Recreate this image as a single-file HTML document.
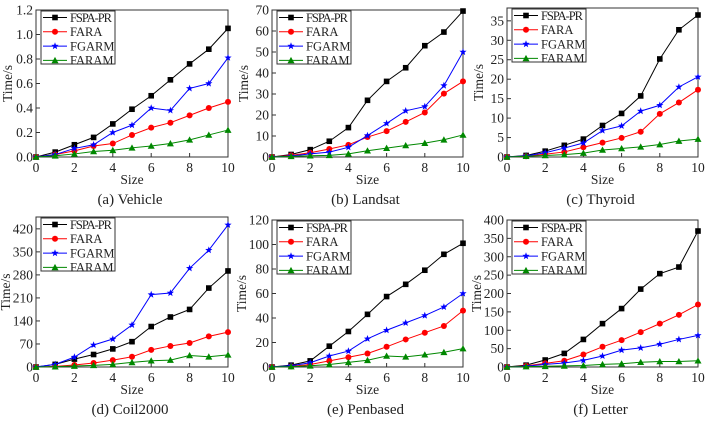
<!DOCTYPE html>
<html><head><meta charset="utf-8"><style>
body{margin:0;background:#fff}
text{font-family:"Liberation Serif","Times New Roman",serif;fill:#222}
</style></head><body>
<svg id="c" width="708" height="424" viewBox="0 0 708 424" xmlns="http://www.w3.org/2000/svg" font-family="Liberation Serif, serif"></svg>
<script>
const sizes=[0,1,2,3,4,5,6,7,8,9,10];
const seriesNames=["FSPA-PR","FARA","FGARM","FARAM"];
const vehicleFSPA=[0,0.04,0.1,0.16,0.27,0.39,0.5,0.63,0.76,0.88,1.05];
const vehicleFARA=[0,0.02,0.05,0.09,0.11,0.18,0.24,0.28,0.34,0.40,0.45];
const vehicleFGARM=[0,0.02,0.07,0.10,0.2,0.26,0.40,0.38,0.56,0.60,0.81];
const vehicleFARAM=[0,0.01,0.025,0.045,0.055,0.075,0.09,0.11,0.14,0.18,0.22];
const landsatFSPA=[0,1.2,3.5,7.5,14,27,36,42.5,53,59.5,69.5];
const landsatFARA=[0,0.8,2,3.8,5.8,9.5,12.3,16.7,21.2,30.2,36];
const landsatFGARM=[0,0.5,1.5,2.3,4.6,10.2,16,22,24,34,50];
const landsatFARAM=[0,0.3,0.6,0.8,1.5,3,4.2,5.5,6.6,8.2,10.5];
const thyroidFSPA=[0,0.4,1.5,3,4.6,8.1,11.2,15.7,25.2,32.7,36.5];
const thyroidFARA=[0,0.2,0.7,1.3,2.5,3.7,4.9,6.5,11.1,14,17.3];
const thyroidFGARM=[0,0.3,1.1,2.3,3.6,6.8,8,11.8,13.3,18,20.6];
const thyroidFARAM=[0,0.2,0.4,0.6,1,1.8,2.2,2.6,3.2,4.1,4.6];
const coilFSPA=[0,8,24,38,55,77,123,152,175,240,292];
const coilFARA=[0,2,6,12,21,31,52,64,73,93,106];
const coilFGARM=[0,8,30,67,85,128,220,225,300,355,432];
const coilFARAM=[0,1,3,5,8,14,19,21,35,31,37];
const penFSPA=[0,1.5,5,17,29,43,57.5,67.5,79,92,101];
const penFARA=[0,0.5,2,5,8,11,16.5,22.5,28,33.5,46];
const penFGARM=[0,1,3.5,9,13,23,30,36,42,49,60];
const penFARAM=[0,0.3,1,2,3.8,5.5,9,8.3,10,12,15];
const letterFSPA=[0,5,19,37,75,118,159,212,254,272,370];
const letterFARA=[0,3,10,17,34,55,73,95,118,142,170];
const letterFGARM=[0,2,7,11,18,30,46,52,62,75,86];
const letterFARAM=[0,1,2,3,4,7,9,13,15,15,17];
const xTicks=[0,2,4,6,8,10];
const vehicleTicks=["0.0","0.2","0.4","0.6","0.8","1.0","1.2"];
const landsatTicks=["0","10","20","30","40","50","60","70"];
const thyroidTicks=["0","5","10","15","20","25","30","35"];
const coilTicks=["0","70","140","210","280","350","420"];
const penTicks=["0","20","40","60","80","100","120"];
const letterTicks=["0","50","100","150","200","250","300","350","400"];

const colors=["#000","#f00","#00f","#080"];
const FONT="'Liberation Serif', serif";
const NS="http://www.w3.org/2000/svg";
const svg=document.getElementById('c');
function mk(t,a,p){const e=document.createElementNS(NS,t);for(const k in a)e.setAttribute(k,a[k]);if(t==='text')e.setAttribute('font-family',FONT);(p||svg).appendChild(e);return e;}
function marker(g,k,x,y,c){
  if(k==0)return mk('rect',{x:x-2.8,y:y-2.8,width:5.6,height:5.6,fill:c},g);
  if(k==1)return mk('circle',{cx:x,cy:y,r:3,fill:c},g);
  if(k==2){let p=[];for(let i=0;i<10;i++){const r=i%2?1.6:3.8,a=-Math.PI/2+i*Math.PI/5;p.push((x+r*Math.cos(a)).toFixed(1)+','+(y+r*Math.sin(a)).toFixed(1));}return mk('polygon',{points:p.join(' '),fill:c},g);}
  return mk('polygon',{points:`${x},${y-3.5} ${x+3.5},${y+2.8} ${x-3.5},${y+2.8}`,fill:c},g);
}
const panels=[
 {name:"vehicle",title:"(a) Vehicle",L:36,R:228,T:10,B:157,max:1.2,ticks:vehicleTicks,data:[vehicleFSPA,vehicleFARA,vehicleFGARM,vehicleFARAM]},
 {name:"landsat",title:"(b) Landsat",L:272,R:463,T:10,B:157,max:70,ticks:landsatTicks,data:[landsatFSPA,landsatFARA,landsatFGARM,landsatFARAM]},
 {name:"thyroid",title:"(c) Thyroid",L:507,R:698,T:8,B:157,max:38.3,ticks:thyroidTicks,data:[thyroidFSPA,thyroidFARA,thyroidFGARM,thyroidFARAM]},
 {name:"coil2000",title:"(d) Coil2000",L:36,R:228,T:217,B:367,max:456,ticks:coilTicks,data:[coilFSPA,coilFARA,coilFGARM,coilFARAM]},
 {name:"penbased",title:"(e) Penbased",L:272,R:463,T:220,B:367,max:120,ticks:penTicks,data:[penFSPA,penFARA,penFGARM,penFARAM]},
 {name:"letter",title:"(f) Letter",L:507,R:698,T:220,B:367,max:400,ticks:letterTicks,data:[letterFSPA,letterFARA,letterFGARM,letterFARAM]},
];
panels.forEach(p=>{
  const g=mk('g',{});
  
  
  const sx=v=>p.L+(p.R-p.L)*v/10, sy=v=>p.B-(p.B-p.T)*v/p.max;
  const fr=mk('rect',{x:p.L,y:p.T,width:p.R-p.L,height:p.B-p.T,fill:'none',stroke:'#333','stroke-width':1},g);
  
  
  xTicks.forEach(v=>{
    mk('line',{x1:sx(v),x2:sx(v),y1:p.B,y2:p.B-4,stroke:'#333'},g);
    const t=mk('text',{x:sx(v),y:p.B+15,'text-anchor':'middle','font-size':13.5},g);t.textContent=v;
    
    
  });
  p.ticks.forEach(s=>{
    const v=parseFloat(s);
    mk('line',{x1:p.L,x2:p.L+4,y1:sy(v),y2:sy(v),stroke:'#333'},g);
    const t=mk('text',{x:p.L-3,y:sy(v)+4.5,'text-anchor':'end','font-size':13.5},g);t.textContent=s;
    
    
  });
  const xl=mk('text',{x:(p.L+p.R)/2,y:p.B+27,'text-anchor':'middle','font-size':13.5},g);xl.textContent="Size";
  
  
  const yx=p.L-(p.max>=100?24:22)-2, yc=(p.T+p.B)/2;
  const yl=mk('text',{x:yx,y:yc,'text-anchor':'middle','font-size':13.5,transform:`rotate(-90 ${yx} ${yc})`},g);yl.textContent="Time/s";
  
  
  const tt=mk('text',{x:(p.L+p.R)/2-2,y:p.B+47,'text-anchor':'middle','font-size':15},g);tt.textContent=p.title;
  
  
  p.data.forEach((d,k)=>{
    const sg=mk('g',{},g);
    
    
    mk('polyline',{points:d.map((v,i)=>sx(sizes[i])+','+sy(v)).join(' '),fill:'none',stroke:colors[k],'stroke-width':1},sg);
    d.forEach((v,i)=>{const m=marker(sg,k,sx(sizes[i]),sy(v),colors[k]);
      
      });
  });
  const lx=p.L+5, ly=p.T+1;
  const lg=mk('g',{},g);
  
  
  mk('rect',{x:lx,y:ly,width:74,height:53,fill:'#fff',stroke:'#333'},lg);
  seriesNames.forEach((n,k)=>{
    const yy=ly+6.5+k*14.3;
    mk('line',{x1:lx+2,x2:lx+26,y1:yy,y2:yy,stroke:colors[k]},lg);
    marker(lg,k,lx+14,yy,colors[k]);
    const t=mk('text',{x:lx+29,y:yy+4.3,'font-size':12.5,textLength:n.length>5?42:0},lg);t.textContent=n;
    if(n.length<=5)t.removeAttribute('textLength');
    
    
  });
});
</script>
</body></html>
